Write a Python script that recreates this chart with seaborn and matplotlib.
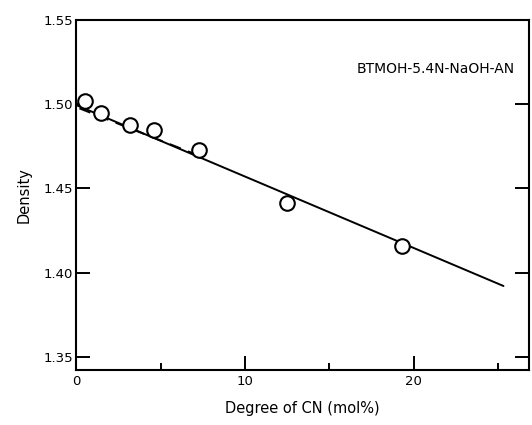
import matplotlib
matplotlib.use("Agg")
import matplotlib.pyplot as plt
import pandas as pd
import seaborn as sns

# measured points
cn_mol = [0.5, 1.5, 3.2, 4.6, 7.3, 12.5, 19.3]
density = [1.502, 1.4945, 1.4875, 1.4845, 1.4725, 1.4415, 1.4155]

# solid fit line and short dashed line (end points)
fit_x = [0.0, 25.3]
fit_y = [1.4995, 1.392]
dash_x = [0.2, 7.0]
dash_y = [1.4975, 1.4705]

label = "BTMOH-5.4N-NaOH-AN"

sns.set_style("ticks")
plt.rcParams['font.family'] = ['DejaVu Sans']
plt.rcParams['text.color'] = 'black'
plt.rcParams['axes.labelcolor'] = 'black'
plt.rcParams['xtick.color'] = 'black'
plt.rcParams['ytick.color'] = 'black'
plt.rcParams['axes.edgecolor'] = 'black'

fig = plt.figure(figsize=(5.32, 4.25), dpi=100)
ax = fig.add_axes([0.143, 0.129, 0.851, 0.824])

pts = pd.DataFrame({"x": cn_mol, "y": density})
sns.lineplot(x=fit_x, y=fit_y, ax=ax, color="black", lw=1.4)
sns.lineplot(x=dash_x, y=dash_y, ax=ax, color="black", lw=1.4, linestyle=(0, (6, 4)))
sns.scatterplot(data=pts, x="x", y="y", ax=ax, s=110, facecolor="white",
                edgecolor="black", linewidth=1.5, zorder=5)

ax.set_xlim(0, 26.8)
ax.set_ylim(1.342, 1.55)
ax.set_xticks([0, 10, 20])
ax.set_xticks([5, 15, 25], minor=True)
ax.set_yticks([1.35, 1.40, 1.45, 1.50, 1.55])
ax.set_yticklabels(["1.35", "1.40", "1.45", "1.50", "1.55"])
ax.tick_params(axis="both", which="major", direction="in", length=10, width=1.4,
               labelsize=9.5, right=True)
ax.tick_params(axis="x", which="minor", direction="in", length=5, width=1.4)
ax.tick_params(axis="y", pad=2)
for s in ax.spines.values():
    s.set_linewidth(1.5)

ax.set_xlabel("Degree of CN (mol%)", fontsize=10.5, labelpad=9)
ax.set_ylabel("Density", fontsize=10.5, labelpad=9)
ax.text(16.6, 1.521, label, fontsize=10, va="center", ha="left")

fig.savefig("out.png", dpi=100)
